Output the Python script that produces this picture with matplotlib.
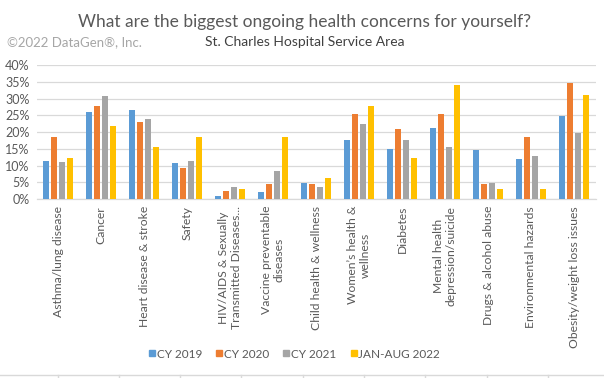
import matplotlib
matplotlib.use("Agg")
import matplotlib.pyplot as plt
import numpy as np
from matplotlib.lines import Line2D
from matplotlib.ticker import FuncFormatter, MultipleLocator

plt.rcParams['font.family'] = ['Lato', 'DejaVu Sans']

categories = [
    "Asthma/lung disease",
    "Cancer",
    "Heart disease & stroke",
    "Safety",
    "HIV/AIDS & Sexually\nTransmitted Diseases...",
    "Vaccine preventable\ndiseases",
    "Child health & wellness",
    "Women\u2019s health &\nwellness",
    "Diabetes",
    "Mental health\ndepression/suicide",
    "Drugs & alcohol abuse",
    "Environmental hazards",
    "Obesity/weight loss issues",
]
series_names = ["CY 2019", "CY 2020", "CY 2021", "JAN-AUG 2022"]
cy2019 = [11.3, 26.0, 26.6, 10.7, 0.9, 2.2, 4.9, 17.6, 14.9, 21.2, 14.6, 11.9, 24.8]
cy2020 = [18.6, 27.8, 23.1, 9.3, 2.4, 4.5, 4.6, 25.4, 20.9, 25.4, 4.5, 18.6, 34.6]
cy2021 = [11.0, 30.7, 24.0, 11.3, 3.6, 8.4, 3.6, 22.4, 17.6, 15.5, 4.9, 12.8, 19.8]
janaug2022 = [12.2, 21.9, 15.5, 18.6, 3.0, 18.6, 6.3, 27.8, 12.2, 34.0, 3.0, 3.0, 31.0]
colors = ["#5B9BD5", "#ED7D31", "#A5A5A5", "#FFC000"]

W, H = 604, 378
fig = plt.figure(figsize=(W / 100, H / 100), dpi=100)
ax = fig.add_axes([36.5 / W, 1 - 199 / H, (595.5 - 36.5) / W, (199 - 65) / H])

x = np.arange(len(categories))
stride = 0.184
width = 0.135
all_series = [cy2019, cy2020, cy2021, janaug2022]
for i, (vals, c, name) in enumerate(zip(all_series, colors, series_names)):
    ax.bar(x + (i - 1.5) * stride, vals, width=width, color=c, label=name, zorder=3)

ax.set_xlim(-0.5, len(categories) - 0.5)
ax.set_ylim(0, 40)
ax.yaxis.set_major_locator(MultipleLocator(5))
ax.yaxis.set_major_formatter(FuncFormatter(lambda v, p: f"{int(v)}%"))
ax.grid(axis='y', color='#D9D9D9', linewidth=0.9, zorder=0)
ax.set_axisbelow(True)
for s in ['top', 'right', 'left']:
    ax.spines[s].set_visible(False)
ax.spines['bottom'].set_color('#D9D9D9')
ax.spines['bottom'].set_linewidth(0.9)
ax.tick_params(axis='y', length=0, pad=5, labelsize=9, labelcolor='#595959')
ax.tick_params(axis='x', length=0, pad=5, labelsize=8.7, labelcolor='#595959')
ax.set_xticks(x)
ax.set_xticklabels(categories, rotation=90, ha='center', va='top', multialignment='center')

fig.text(305 / W, 1 - 22 / H, "What are the biggest ongoing health concerns for yourself?",
         ha='center', va='center', fontsize=12.5, color='#595959')
fig.text(305 / W, 1 - 42 / H, "St. Charles Hospital Service Area",
         ha='center', va='center', fontsize=10, color='#404040')
fig.text(7 / W, 1 - 42 / H, "\u00a92022 DataGen\u00ae, Inc.",
         ha='left', va='center', fontsize=9.5, color='#A6A6A6')

handles = [Line2D([0], [0], marker='s', linestyle='none', markersize=5,
                  markerfacecolor=c, markeredgecolor=c) for c in colors]
fig.legend(handles, series_names, loc='center', bbox_to_anchor=(294 / W, 1 - 354 / H),
           ncol=4, frameon=False, fontsize=8.5, labelcolor='#595959',
           handletextpad=0.05, columnspacing=1.1, handlelength=0.7)

# spreadsheet cell border at the bottom
fig.add_artist(Line2D([0, 1], [1 - 375 / H, 1 - 375 / H], color='#D9D9D9', linewidth=1,
                      transform=fig.transFigure))
for xc in [58, 119, 180, 241, 303, 364, 425, 487, 548]:
    fig.add_artist(Line2D([xc / W, xc / W], [0, 1 - 375 / H], color='#D9D9D9', linewidth=1,
                          transform=fig.transFigure))

fig.savefig("out.png", dpi=100)
